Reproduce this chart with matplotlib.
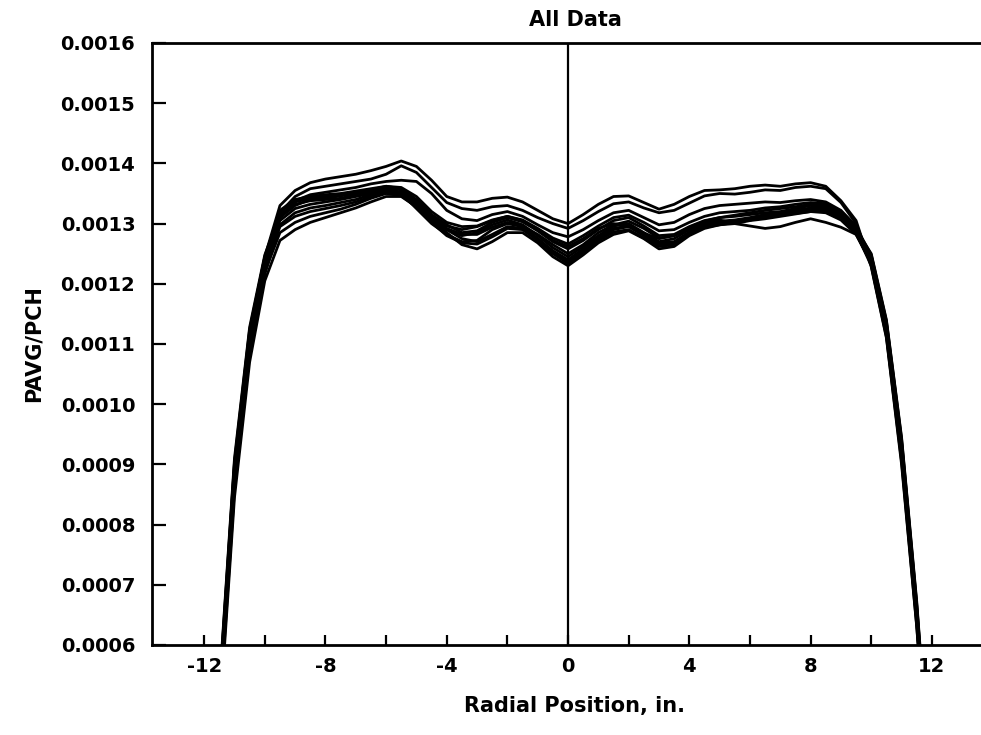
import numpy as np
import matplotlib
matplotlib.use("Agg")
import matplotlib.pyplot as plt
from matplotlib.ticker import FixedLocator

# Radial positions (in.) shared by every traverse
radial_in = [-11.5, -11.0, -10.5, -10.0, -9.5, -9.0, -8.5, -8.0, -7.5, -7.0,
             -6.5, -6.0, -5.5, -5.0, -4.5, -4.0, -3.5, -3.0, -2.5, -2.0,
             -1.5, -1.0, -0.5, 0.0, 0.5, 1.0, 1.5, 2.0, 2.5, 3.0,
             3.5, 4.0, 4.5, 5.0, 5.5, 6.0, 6.5, 7.0, 7.5, 8.0,
             8.5, 9.0, 9.5, 10.0, 10.5, 11.0, 11.5, 12.0]

# PAVG/PCH for each traverse
run_a = [0.000520, 0.000900, 0.001120, 0.001245, 0.001330, 0.001355, 0.001368, 0.001374, 0.001378, 0.001382,
         0.001388, 0.001395, 0.001404, 0.001395, 0.001372, 0.001345, 0.001336, 0.001336, 0.001342, 0.001344,
         0.001336, 0.001322, 0.001308, 0.001300, 0.001315, 0.001332, 0.001345, 0.001346, 0.001335, 0.001324,
         0.001332, 0.001345, 0.001355, 0.001356, 0.001358, 0.001362, 0.001364, 0.001362, 0.001366, 0.001368,
         0.001362, 0.001338, 0.001305, 0.001228, 0.001110, 0.000900, 0.000630, 0.000290]
run_b = [0.000505, 0.000875, 0.001100, 0.001230, 0.001318, 0.001345, 0.001358, 0.001362, 0.001366, 0.001370,
         0.001374, 0.001382, 0.001396, 0.001385, 0.001360, 0.001335, 0.001325, 0.001322, 0.001328, 0.001330,
         0.001322, 0.001310, 0.001300, 0.001292, 0.001305, 0.001320, 0.001333, 0.001336, 0.001326, 0.001318,
         0.001322, 0.001334, 0.001346, 0.001350, 0.001349, 0.001352, 0.001356, 0.001355, 0.001360, 0.001362,
         0.001358, 0.001335, 0.001300, 0.001232, 0.001118, 0.000912, 0.000640, 0.000300]
run_c = [0.000495, 0.000870, 0.001098, 0.001228, 0.001310, 0.001338, 0.001348, 0.001352, 0.001356, 0.001360,
         0.001366, 0.001370, 0.001372, 0.001370, 0.001350, 0.001322, 0.001308, 0.001305, 0.001315, 0.001320,
         0.001312, 0.001298, 0.001285, 0.001278, 0.001290, 0.001305, 0.001318, 0.001322, 0.001310, 0.001298,
         0.001302, 0.001315, 0.001325, 0.001330, 0.001332, 0.001334, 0.001336, 0.001335, 0.001338, 0.001340,
         0.001336, 0.001322, 0.001296, 0.001240, 0.001125, 0.000925, 0.000650, 0.000310]
run_d = [0.000510, 0.000890, 0.001110, 0.001240, 0.001322, 0.001340, 0.001345, 0.001348, 0.001350, 0.001354,
         0.001358, 0.001362, 0.001358, 0.001340, 0.001315, 0.001298, 0.001285, 0.001288, 0.001302, 0.001310,
         0.001303, 0.001288, 0.001270, 0.001258, 0.001272, 0.001290, 0.001305, 0.001310, 0.001296, 0.001280,
         0.001282, 0.001295, 0.001305, 0.001310, 0.001314, 0.001318, 0.001322, 0.001325, 0.001328, 0.001332,
         0.001330, 0.001318, 0.001292, 0.001238, 0.001122, 0.000920, 0.000648, 0.000305]
run_e = [0.000530, 0.000910, 0.001128, 0.001248, 0.001315, 0.001332, 0.001338, 0.001340, 0.001342, 0.001348,
         0.001352, 0.001358, 0.001352, 0.001330, 0.001305, 0.001290, 0.001280, 0.001285, 0.001298, 0.001306,
         0.001298, 0.001280, 0.001260, 0.001245, 0.001262, 0.001280, 0.001296, 0.001300, 0.001285, 0.001270,
         0.001275, 0.001290, 0.001300, 0.001304, 0.001306, 0.001310, 0.001315, 0.001318, 0.001322, 0.001326,
         0.001325, 0.001315, 0.001290, 0.001250, 0.001140, 0.000945, 0.000672, 0.000330]
run_f = [0.000490, 0.000865, 0.001092, 0.001225, 0.001305, 0.001325, 0.001332, 0.001336, 0.001340, 0.001345,
         0.001350, 0.001355, 0.001350, 0.001325, 0.001300, 0.001282, 0.001270, 0.001272, 0.001290, 0.001300,
         0.001295, 0.001275, 0.001252, 0.001236, 0.001255, 0.001275, 0.001290, 0.001295, 0.001280, 0.001265,
         0.001268, 0.001285, 0.001296, 0.001300, 0.001302, 0.001306, 0.001310, 0.001314, 0.001318, 0.001322,
         0.001322, 0.001312, 0.001288, 0.001245, 0.001132, 0.000935, 0.000660, 0.000320]
run_g = [0.000470, 0.000845, 0.001070, 0.001205, 0.001272, 0.001290, 0.001302, 0.001310, 0.001318, 0.001326,
         0.001336, 0.001345, 0.001345, 0.001328, 0.001305, 0.001285, 0.001265, 0.001258, 0.001270, 0.001285,
         0.001285, 0.001268, 0.001245, 0.001230, 0.001248, 0.001268, 0.001282, 0.001288, 0.001275, 0.001258,
         0.001262, 0.001280, 0.001292, 0.001298, 0.001300, 0.001305, 0.001308, 0.001312, 0.001316, 0.001320,
         0.001320, 0.001310, 0.001285, 0.001230, 0.001112, 0.000905, 0.000632, 0.000290]
run_h = [0.000500, 0.000878, 0.001100, 0.001228, 0.001295, 0.001312, 0.001320, 0.001325, 0.001330, 0.001336,
         0.001345, 0.001352, 0.001348, 0.001332, 0.001312, 0.001296, 0.001290, 0.001295, 0.001305, 0.001312,
         0.001305, 0.001290, 0.001272, 0.001262, 0.001275, 0.001292, 0.001300, 0.001296, 0.001284, 0.001275,
         0.001280, 0.001292, 0.001302, 0.001306, 0.001300, 0.001296, 0.001292, 0.001295, 0.001302, 0.001308,
         0.001302, 0.001294, 0.001282, 0.001236, 0.001125, 0.000922, 0.000650, 0.000310]
run_i = [0.000515, 0.000895, 0.001115, 0.001238, 0.001310, 0.001330, 0.001340, 0.001342, 0.001346, 0.001350,
         0.001355, 0.001360, 0.001356, 0.001336, 0.001310, 0.001292, 0.001282, 0.001282, 0.001294, 0.001302,
         0.001296, 0.001282, 0.001265, 0.001250, 0.001265, 0.001285, 0.001298, 0.001304, 0.001292, 0.001276,
         0.001280, 0.001294, 0.001304, 0.001310, 0.001312, 0.001315, 0.001318, 0.001320, 0.001325, 0.001330,
         0.001328, 0.001316, 0.001290, 0.001246, 0.001135, 0.000938, 0.000665, 0.000325]
run_j = [0.000480, 0.000858, 0.001082, 0.001216, 0.001298, 0.001318, 0.001326, 0.001330, 0.001335, 0.001340,
         0.001348, 0.001356, 0.001352, 0.001335, 0.001310, 0.001290, 0.001275, 0.001270, 0.001282, 0.001295,
         0.001292, 0.001275, 0.001255, 0.001240, 0.001258, 0.001278, 0.001292, 0.001296, 0.001284, 0.001268,
         0.001270, 0.001286, 0.001298, 0.001302, 0.001305, 0.001308, 0.001312, 0.001316, 0.001320, 0.001324,
         0.001324, 0.001314, 0.001288, 0.001244, 0.001130, 0.000932, 0.000658, 0.000318]
run_k = [0.000488, 0.000866, 0.001090, 0.001220, 0.001285, 0.001302, 0.001312, 0.001318, 0.001324, 0.001332,
         0.001342, 0.001350, 0.001346, 0.001328, 0.001302, 0.001280, 0.001268, 0.001266, 0.001278, 0.001292,
         0.001290, 0.001272, 0.001250, 0.001234, 0.001252, 0.001272, 0.001286, 0.001290, 0.001276, 0.001262,
         0.001265, 0.001282, 0.001294, 0.001298, 0.001302, 0.001306, 0.001310, 0.001314, 0.001317, 0.001320,
         0.001318, 0.001306, 0.001282, 0.001234, 0.001116, 0.000912, 0.000640, 0.000298]
run_l = [0.000525, 0.000904, 0.001124, 0.001244, 0.001320, 0.001336, 0.001342, 0.001345, 0.001348, 0.001352,
         0.001356, 0.001362, 0.001360, 0.001345, 0.001320, 0.001302, 0.001295, 0.001296, 0.001306, 0.001312,
         0.001306, 0.001292, 0.001276, 0.001266, 0.001280, 0.001296, 0.001310, 0.001314, 0.001302, 0.001288,
         0.001290, 0.001302, 0.001312, 0.001318, 0.001320, 0.001322, 0.001326, 0.001328, 0.001332, 0.001335,
         0.001333, 0.001320, 0.001294, 0.001248, 0.001138, 0.000942, 0.000668, 0.000328]

runs = [run_a, run_b, run_c, run_d, run_e, run_f, run_g, run_h, run_i, run_j, run_k, run_l]

x_major = [-12, -8, -4, 0, 4, 8, 12]
x_minor = [-10, -6, -2, 2, 6, 10]
y_ticks = [0.0006, 0.0007, 0.0008, 0.0009, 0.0010, 0.0011, 0.0012, 0.0013, 0.0014, 0.0015, 0.0016]

plt.rcParams["font.family"] = ["DejaVu Sans"]
plt.rcParams["font.weight"] = "bold"

fig = plt.figure(figsize=(9.81, 7.35), dpi=100)
ax = fig.add_axes([152 / 981, 1 - 645 / 735, 846 / 981, 602 / 735])

for run in runs:
    ax.plot(radial_in, run, color="black", lw=2.0, solid_joinstyle="round")

ax.axvline(0, color="black", lw=1.6)

ax.set_xlim(-13.72, 14.18)
ax.set_ylim(0.0006, 0.0016)

ax.xaxis.set_major_locator(FixedLocator(x_major))
ax.xaxis.set_minor_locator(FixedLocator(x_minor))
ax.set_yticks(y_ticks)
ax.set_yticklabels([f"{v:.4f}" for v in y_ticks])
ax.set_xticklabels([str(v) for v in x_major])

ax.tick_params(axis="x", which="both", direction="in", length=7, width=1.6,
               labelsize=14, pad=9)
ax.tick_params(axis="y", direction="in", length=10, width=1.6, labelsize=14, pad=12)
for lab in ax.get_xticklabels() + ax.get_yticklabels():
    lab.set_fontweight("bold")

for side in ("left", "top", "bottom"):
    ax.spines[side].set_linewidth(2.0)
ax.spines["right"].set_visible(False)

ax.set_title("All Data", fontsize=15, fontweight="bold", pad=12)
ax.set_xlabel("Radial Position, in.", fontsize=15, fontweight="bold", labelpad=14)
ax.set_ylabel("PAVG/PCH", fontsize=15, fontweight="bold", labelpad=12)

fig.savefig("out.png", dpi=100, facecolor="white")
